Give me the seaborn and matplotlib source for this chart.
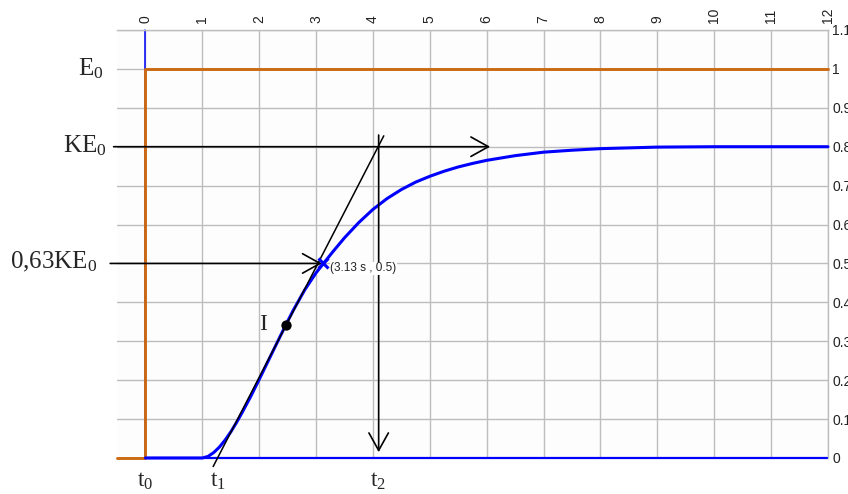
import matplotlib
matplotlib.use("Agg")
import matplotlib.pyplot as plt
import numpy as np
import pandas as pd
import seaborn as sns

# Step input (orange) and delayed response (blue)
step_t = [-0.5, 0.0, 0.0, 12.0]
step_y = [0.0, 0.0, 1.0, 1.0]

resp_t = [0.0, 1.0, 1.1, 1.2, 1.3, 1.4, 1.5, 1.6, 1.7, 1.85, 2.0, 2.15, 2.33,
          2.47, 2.6, 2.8, 3.0, 3.13, 3.3, 3.5, 3.75, 4.0, 4.25, 4.5, 4.75,
          5.0, 5.25, 5.5, 5.75, 6.0, 6.5, 7.0, 7.5, 8.0, 9.0, 10.0, 11.0, 12.0]
resp_y = [0.0, 0.0, 0.004, 0.014, 0.028, 0.046, 0.067, 0.091, 0.117, 0.158,
          0.202, 0.247, 0.301, 0.343, 0.38, 0.432, 0.476, 0.5, 0.531, 0.566,
          0.605, 0.639, 0.667, 0.69, 0.709, 0.724, 0.737, 0.748, 0.757, 0.765,
          0.777, 0.786, 0.791, 0.795, 0.799, 0.8, 0.8, 0.8]

# Inflection point and its tangent
infl_t, infl_y = 2.47, 0.343
tangent_t = [1.19, 4.19]
tangent_y = [-0.022, 0.828]

# Marked point on the response
mark_t, mark_y = 3.13, 0.5
mark_label = "(3.13 s , 0.5)"

gain = 0.8
t2 = 4.1

x_ticks = list(range(0, 13))
y_ticks = [0, 0.1, 0.2, 0.3, 0.4, 0.5, 0.6, 0.7, 0.8, 0.9, 1.0, 1.1]
y_tick_labels = ["0", "0.1", "0.2", "0.3", "0.4", "0.5", "0.6", "0.7", "0.8",
                 "0.9", "1", "1.1"]

sns.set_theme(style="whitegrid")
plt.rcParams["font.family"] = ["Liberation Sans", "DejaVu Sans"]
plt.rcParams["mathtext.fontset"] = "custom"
plt.rcParams["mathtext.rm"] = "Liberation Serif"
plt.rcParams["mathtext.it"] = "Liberation Serif:italic"
plt.rcParams["mathtext.default"] = "rm"

BLUE = "#0000ff"
ORANGE = "#cc6a14"
GRID = "#bdbdbd"

fig = plt.figure(figsize=(8.48, 4.94), dpi=100)
ax = fig.add_axes([0.138, 0.0729, 0.9764 - 0.138, 0.9393 - 0.0729])
ax.set_facecolor("#fdfdfd")

ax.set_xlim(-0.5, 12)
ax.set_ylim(0, 1.1)

# grid and frame
ax.grid(True, color=GRID, lw=1.0)
ax.set_axisbelow(True)
for side in ("left", "bottom"):
    ax.spines[side].set_visible(False)
for side in ("top", "right"):
    ax.spines[side].set_visible(True)
    ax.spines[side].set_color(GRID)
    ax.spines[side].set_linewidth(1.0)

ax.xaxis.tick_top()
ax.yaxis.tick_right()
ax.set_xticks(x_ticks)
ax.set_xticklabels([str(v) for v in x_ticks], rotation=90)
ax.set_yticks(y_ticks)
ax.set_yticklabels(y_tick_labels)
ax.tick_params(axis="x", length=0, pad=5, labelsize=10, colors="#222222")
ax.tick_params(axis="y", length=0, pad=3, labelsize=10, colors="#222222")
ax.set_xlabel("")
ax.set_ylabel("")

# thin blue axis lines
ax.plot([0, 0], [0, 1.1], color=BLUE, lw=1.1, clip_on=False, zorder=2)
ax.plot([0, 12], [0, 0], color=BLUE, lw=1.6, clip_on=False, zorder=2)

# step input
sns.lineplot(x=step_t, y=step_y, sort=False, estimator=None, color=ORANGE,
             lw=2.1, ax=ax, zorder=3, clip_on=False)

# response curve
sns.lineplot(x=resp_t, y=resp_y, sort=False, estimator=None, color=BLUE,
             lw=2.2, ax=ax, zorder=4, clip_on=False)

# tangent at the inflection point
ax.plot(tangent_t, tangent_y, color="black", lw=1.1, clip_on=False, zorder=5)
sns.scatterplot(x=[infl_t], y=[infl_y], color="black", s=55, ax=ax, zorder=6,
                edgecolor="black", linewidth=0)

# marked point
ax.plot([mark_t], [mark_y], marker="x", color=BLUE, ms=7, mew=2.2, zorder=6)
ax.text(mark_t + 0.12, mark_y - 0.013, mark_label, fontsize=8.5,
        color="#222222", ha="left", va="center", zorder=7,
        bbox=dict(facecolor="white", edgecolor="none", pad=0.3))

# arrows
arrow_kw = dict(arrowstyle="->,head_length=0.45,head_width=0.25",
                color="black", lw=1.2, shrinkA=0, shrinkB=0,
                mutation_scale=28)
ax.annotate("", xy=(6.06, gain), xytext=(-0.56, gain),
            arrowprops=arrow_kw, annotation_clip=False, zorder=5)
ax.annotate("", xy=(3.1, mark_y), xytext=(-0.62, mark_y),
            arrowprops=arrow_kw, annotation_clip=False, zorder=5)
ax.annotate("", xy=(t2, 0.015), xytext=(t2, 0.83),
            arrowprops=arrow_kw, annotation_clip=False, zorder=5)

# level labels
serif = ["Liberation Serif", "DejaVu Serif"]
ax.text(-0.746, 0.982, "E$_0$", fontsize=18, family=serif, ha="right",
        va="baseline", clip_on=False)
ax.text(-0.676, 0.786, "KE$_0$", fontsize=18, family=serif, ha="right",
        va="baseline", clip_on=False)
ax.text(-0.85, 0.486, "0,63KE$_0$", fontsize=18, family=serif, ha="right",
        va="baseline", clip_on=False)

# time labels
ax.text(0.0, -0.074, "t$_0$", fontsize=17, family=serif, ha="center",
        va="baseline", clip_on=False)
ax.text(1.28, -0.074, "t$_1$", fontsize=17, family=serif, ha="center",
        va="baseline", clip_on=False)
ax.text(t2 - 0.01, -0.074, "t$_2$", fontsize=17, family=serif, ha="center",
        va="baseline", clip_on=False)
ax.text(2.06, 0.33, "I", fontsize=17, family=serif, ha="center",
        va="baseline", clip_on=False)

fig.savefig("out.png", dpi=100)
